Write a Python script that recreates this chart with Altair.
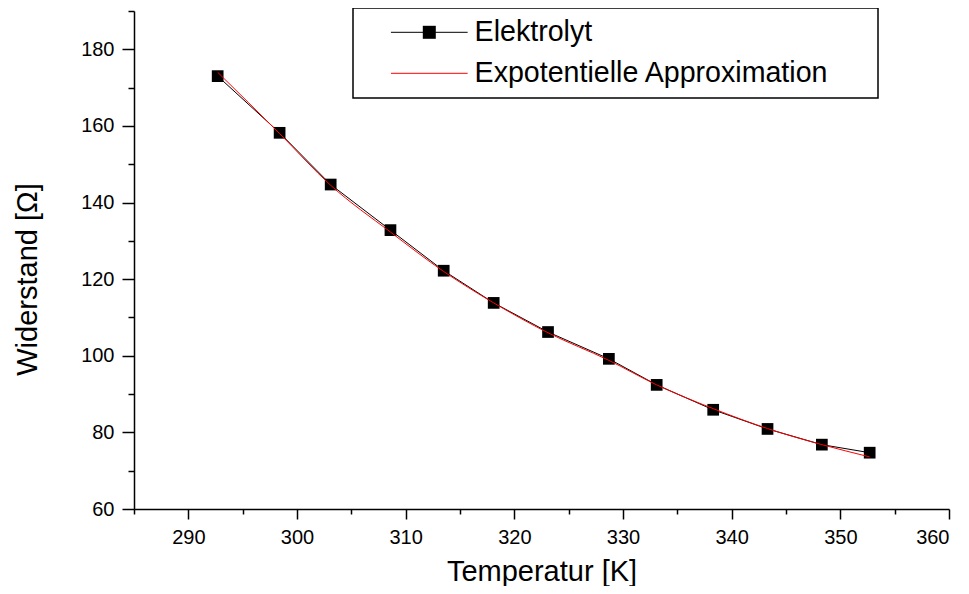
import altair as alt
import pandas as pd

# ---- data ----
temperatur = [292.7, 298.4, 303.1, 308.6, 313.5, 318.1, 323.1, 328.7, 333.1, 338.3, 343.3, 348.3, 352.7]
widerstand = [173.0, 158.2, 144.7, 132.8, 122.2, 113.8, 106.2, 99.2, 92.4, 85.9, 80.9, 76.8, 74.7]
approximation = [174.0, 158.0, 144.5, 132.3, 122.0, 113.8, 106.0, 98.8, 92.4, 86.2, 81.0, 76.8, 73.6]

series_names = ["Elektrolyt", "Expotentielle Approximation"]
series_colors = ["#000000", "#ff0000"]

x_major = list(range(290, 361, 10))
x_minor = list(range(285, 361, 10))
y_major = list(range(60, 181, 20))
y_minor = list(range(70, 191, 20))

FONT = "Liberation Sans"

df = pd.concat([
    pd.DataFrame({"T": temperatur, "R": widerstand, "series": series_names[0]}),
    pd.DataFrame({"T": temperatur, "R": approximation, "series": series_names[1]}),
], ignore_index=True)

x_scale = alt.Scale(domain=[285, 360], nice=False, zero=False)
y_scale = alt.Scale(domain=[60, 190], nice=False, zero=False)

LEG_X, LEG_Y, LEG_PAD, LEG_FS = 219, -3, 10, 28.6

# invisible title placed to the right of the entries only widens the legend box
line_legend = alt.Legend(
    title="MM", titleOrient="right", titleColor="transparent", titleFontSize=20, titlePadding=5,
    orient="none", legendX=LEG_X, legendY=LEG_Y, direction="vertical",
    padding=LEG_PAD, strokeColor="black", fillColor="white",
    labelFont=FONT, labelFontSize=LEG_FS, labelColor="black", labelLimit=1000,
    symbolType="M-5.9,0H5.9", symbolSize=169, symbolStrokeWidth=1,
    symbolOffset=52, labelOffset=31, rowPadding=12,
)
square_legend = alt.Legend(
    title=None, orient="none", legendX=LEG_X, legendY=LEG_Y, direction="vertical",
    padding=LEG_PAD, strokeColor="transparent",
    labelFont=FONT, labelFontSize=LEG_FS, labelOpacity=0,
    symbolType="square", symbolSize=169, symbolStrokeWidth=0,
    symbolFillColor="black", symbolStrokeColor="black", symbolOpacity=1,
    symbolOffset=52, labelOffset=31, rowPadding=12, zindex=2,
)

common_axis = dict(grid=False, tickColor="black", tickWidth=1.5, domainColor="black", domainWidth=1.5,
                   labelFont=FONT, labelFontSize=20, labelColor="black",
                   titleFont=FONT, titleFontSize=29, titleFontWeight="normal", titleColor="black")

x_axis = alt.Axis(orient="bottom", values=x_major, tickSize=10, labelPadding=8, titlePadding=10, **common_axis)
y_axis = alt.Axis(orient="left", values=y_major, tickSize=12, labelPadding=8, titlePadding=38,
                  titleY=268, **common_axis)
x_axis_minor = alt.Axis(orient="bottom", values=x_minor, tickSize=5, tickColor="black", tickWidth=1.5,
                        labels=False, domain=False, grid=False, title=None)
y_axis_minor = alt.Axis(orient="left", values=y_minor, tickSize=6, tickColor="black", tickWidth=1.5,
                        labels=False, domain=False, grid=False, title=None)

color = alt.Color("series:N", scale=alt.Scale(domain=series_names, range=series_colors), legend=line_legend)

black_line = alt.Chart(df).mark_line(strokeWidth=1).encode(
    x=alt.X("T:Q", title="Temperatur [K]", scale=x_scale, axis=x_axis),
    y=alt.Y("R:Q", title="Widerstand [Ω]", scale=y_scale, axis=y_axis),
    color=color,
).transform_filter(alt.datum.series == series_names[0])

squares = alt.Chart(df).mark_point(shape="square", filled=True, size=137, opacity=1, color="black").encode(
    x=alt.X("T:Q", scale=x_scale, axis=None),
    y=alt.Y("R:Q", scale=y_scale, axis=None),
    shape=alt.Shape("series:N", scale=alt.Scale(domain=[series_names[0]], range=["square"]), legend=square_legend),
).transform_filter(alt.datum.series == series_names[0])

red_line = alt.Chart(df).mark_line(strokeWidth=1, interpolate="monotone").encode(
    x=alt.X("T:Q", scale=x_scale, axis=x_axis_minor),
    y=alt.Y("R:Q", scale=y_scale, axis=y_axis_minor),
    color=color,
).transform_filter(alt.datum.series == series_names[1])

chart = alt.layer(black_line, squares, red_line).resolve_axis(
    x="independent", y="independent"
).properties(
    width=815, height=498,
    autosize=alt.AutoSizeParams(type="none"),
    padding={"left": 126, "top": 3, "right": 12, "bottom": 77},
).configure_view(stroke=None).configure_legend(strokeWidth=1.5)

chart.save("out.html", embed_options={"renderer": "svg", "actions": False})
